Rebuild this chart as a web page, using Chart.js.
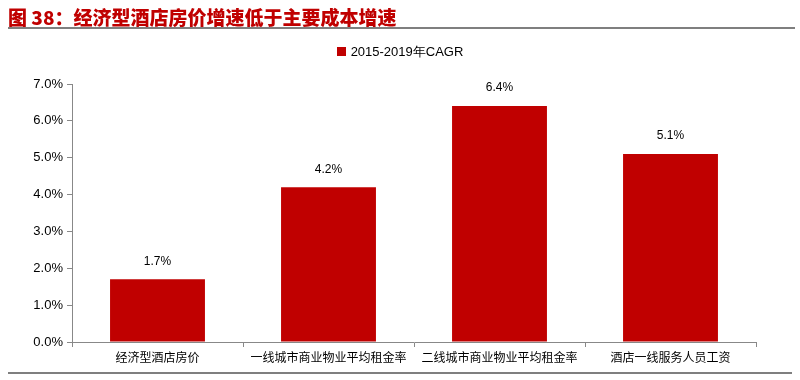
<!DOCTYPE html>
<html><head><meta charset="utf-8">
<script src="https://cdn.jsdelivr.net/npm/chart.js@4.4.0/dist/chart.umd.min.js"></script>
<style>
html,body{margin:0;padding:0;background:#fff;}
#wrap{position:relative;width:800px;height:380px;overflow:hidden;}
#title{position:absolute;left:8px;top:5px;font-family:"Noto Sans CJK SC",sans-serif;font-weight:900;font-size:19px;line-height:24px;color:#C00000;white-space:nowrap;}
#line1{position:absolute;left:8px;top:27px;width:787px;height:2px;background:#7f7f7f;}
#line2{position:absolute;left:8px;top:372px;width:784px;height:2px;background:#7f7f7f;}
#legend{position:absolute;left:0;width:800px;top:44px;text-align:center;font-family:"Liberation Sans",Arial,sans-serif;font-size:13px;color:#000;line-height:16px;}
#legend span.box{display:inline-block;width:9px;height:9px;background:#C00000;margin-right:5px;vertical-align:0px;}
canvas{position:absolute;left:0;top:0;}
</style></head>
<body><div id="wrap">
<canvas id="c" width="800" height="380"></canvas>
<div id="title">图 38：经济型酒店房价增速低于主要成本增速</div>
<div id="line1"></div><div id="line2"></div>
<div id="legend"><span class="box"></span><span id="legtext"></span></div>
</div>
<script>
const categories = ["经济型酒店房价","一线城市商业物业平均租金率","二线城市商业物业平均租金率","酒店一线服务人员工资"];
const seriesName = "2015-2019年CAGR";
const cagr = [1.7, 4.2, 6.4, 5.1];
const yTicks = [0,1,2,3,4,5,6,7];

document.getElementById('legtext').textContent = seriesName;

const labelPlugin = {
  id:'vals',
  afterDatasetsDraw(chart){
    const ctx = chart.ctx;
    const meta = chart.getDatasetMeta(0);
    ctx.save();
    ctx.font = '12px "Liberation Sans", Arial, sans-serif';
    ctx.fillStyle = '#000';
    ctx.textAlign = 'center';
    ctx.textBaseline = 'bottom';
    meta.data.forEach((el,i)=>{
      ctx.fillText(cagr[i].toFixed(1)+'%', el.x, el.y - 12);
    });
    ctx.restore();
  }
};

new Chart(document.getElementById('c'), {
  type:'bar',
  data:{labels:categories, datasets:[{label:seriesName, data:cagr, backgroundColor:'#C00000', borderWidth:0, categoryPercentage:0.555, barPercentage:1}]},
  options:{
    responsive:false, animation:false,
    layout:{padding:{top:84,left:0,right:44,bottom:0}},
    plugins:{
      legend:{display:false},
      tooltip:{enabled:false}
    },
    scales:{
      y:{min:0,max:7,
        afterFit(s){s.width=72;},
        afterBuildTicks(s){s.ticks = yTicks.map(v=>({value:v}));},
        grid:{display:true, drawOnChartArea:false, drawTicks:true, tickLength:5, color:'#888'},
        border:{display:true,color:'#888',width:1},
        ticks:{color:'#000', padding:4, font:{family:'"Liberation Sans", Arial, sans-serif', size:13}, callback:v=>v.toFixed(1)+'%'}
      },
      x:{
        afterFit(s){s.height=38;},
        grid:{display:true, drawOnChartArea:false, offset:true, tickLength:5, color:'#888'},
        border:{display:true,color:'#888',width:1},
        ticks:{color:'#000', padding:3, maxRotation:0, autoSkip:false, font:{family:'"Noto Sans CJK SC", sans-serif', size:12}}
      }
    }
  },
  plugins:[labelPlugin]
});
</script>
</body></html>
